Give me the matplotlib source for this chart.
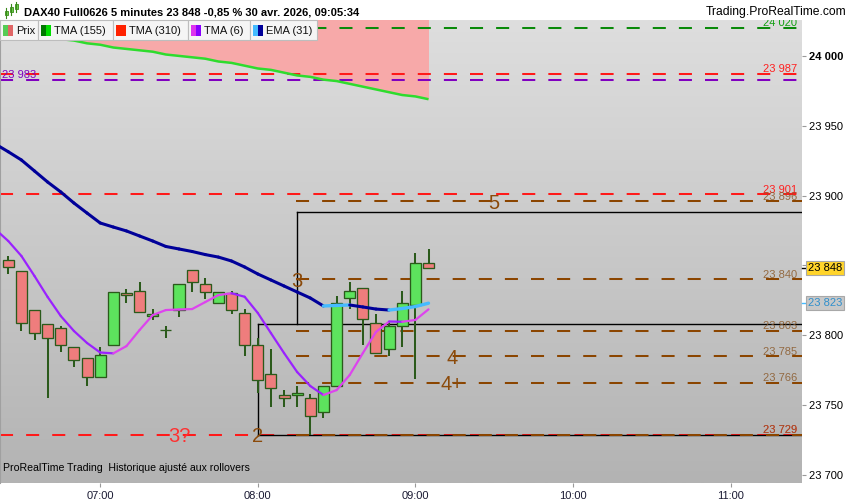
import numpy as np
import matplotlib
matplotlib.use("Agg")
import matplotlib.pyplot as plt
import matplotlib.transforms as mtransforms
from matplotlib.patches import Rectangle
from matplotlib.lines import Line2D
from matplotlib.colors import LinearSegmentedColormap

plt.rcParams['font.family'] = ['Liberation Sans', 'DejaVu Sans']
plt.rcParams['lines.scale_dashes'] = False

# ---------------- data ----------------
times = ["06:25", "06:30", "06:35", "06:40", "06:45", "06:50", "06:55", "07:00",
         "07:05", "07:10", "07:15", "07:20", "07:25", "07:30", "07:35", "07:40",
         "07:45", "07:50", "07:55", "08:00", "08:05", "08:10", "08:15", "08:20",
         "08:25", "08:30", "08:35", "08:40", "08:45", "08:50", "08:55", "09:00",
         "09:05"]
opens = [23854, 23846, 23818, 23808, 23805, 23792, 23784, 23770,
         23793, 23830, 23832, 23814, 23804, 23818, 23847, 23837,
         23823, 23830, 23816, 23793, 23772, 23757, 23757, 23755,
         23745, 23764, 23827, 23834, 23809, 23790, 23807, 23822,
         23852]
highs = [23857, 23846, 23818, 23808, 23807, 23792, 23784, 23792,
         23831, 23833, 23838, 23819, 23807, 23837, 23847, 23841,
         23831, 23832, 23819, 23798, 23790, 23761, 23764, 23758,
         23764, 23828, 23838, 23834, 23815, 23810, 23832, 23859,
         23862]
lows = [23844, 23803, 23797, 23755, 23788, 23777, 23764, 23770,
        23793, 23823, 23817, 23811, 23798, 23813, 23831, 23826,
        23823, 23815, 23785, 23759, 23749, 23749, 23749, 23729,
        23741, 23764, 23819, 23793, 23787, 23785, 23792, 23769,
        23848]
closes = [23849, 23809, 23802, 23798, 23793, 23782, 23770, 23786,
          23831, 23829, 23817, 23815, 23804, 23837, 23838, 23831,
          23831, 23818, 23793, 23768, 23762, 23755, 23759, 23742,
          23764, 23823, 23832, 23812, 23787, 23807, 23823, 23852,
          23848]

# indicators also have the bar before the first visible candle
indicator_times = ["06:20"] + times
tma155 = [24019, 24018, 24016, 24015, 24013, 24012, 24011, 24009, 24008,
          24006, 24005, 24004, 24003, 24001, 24000, 23999, 23998,
          23996, 23995, 23993, 23991, 23990, 23988, 23986, 23985,
          23983, 23982, 23980, 23978, 23976, 23974, 23972, 23971,
          23969]
tma6 = [23876.0, 23867.5, 23856.8, 23842.4, 23827.4, 23813.8, 23803.1, 23794.5, 23787.7,
        23787.1, 23792.3, 23803.8, 23814.5, 23818.1, 23818.5, 23818.8, 23823.8,
        23828.8, 23830.1, 23827.6, 23816.0, 23801.6, 23787.3, 23773.7, 23763.7,
        23757.3, 23760.8, 23771.6, 23787.3, 23802.4, 23809.9, 23809.7, 23811.0,
        23818.6]
ema31 = [23937.0, 23931.4, 23925.5, 23917.6, 23909.7, 23902.6, 23894.7, 23887.5, 23880.4,
         23877.5, 23874.7, 23871.1, 23867.5, 23863.6, 23861.8, 23860.0, 23857.8,
         23856.0, 23853.2, 23848.9, 23843.9, 23839.6, 23835.3, 23831.0, 23826.7,
         23821.0, 23821.4, 23821.7, 23820.3, 23818.8, 23818.1, 23819.2, 23820.6,
         23823.0]

full_levels = [24020, 23987, 23983, 23901, 23729]
full_level_labels = ["24 020", "23 987", "23 983", "23 901", "23 729"]
brown_start = "08:15"
brown_levels = [23896, 23840, 23803, 23785, 23766, 23729]
brown_level_labels = ["23 896", "23 840", "23 803", "23 785", "23 766", "23 729"]

box_top_start, box_top_price, box_top_bottom = "08:15", 23888, 23808
box_low_start, box_low_price, box_low_bottom = "08:00", 23808, 23729

wave_labels = ["3?", "2", "3", "4", "4+", "5"]
wave_times = ["07:30", "08:00", "08:15", "09:14", "09:14", "09:30"]
wave_prices = [23729, 23729, 23840, 23785, 23766, 23896]

x_tick_labels = ["07:00", "08:00", "09:00", "10:00", "11:00"]
y_ticks = [23700, 23750, 23800, 23850, 23900, 23950, 24000]

title = "DAX40 Full0626 5 minutes 23 848 -0,85 % 30 avr. 2026, 09:05:34"
legend_names = ["Prix", "TMA (155)", "TMA (310)", "TMA (6)", "EMA (31)"]
last_price = 23848
last_ema = 23823


def to_min(t):
    h, m = t.split(":")
    return int(h) * 60 + int(m)


def fmt(v):
    return f"{int(round(v)):,}".replace(",", " ")


# ---------------- figure ----------------
W, H = 850, 500
fig = plt.figure(figsize=(W / 100, H / 100), dpi=100)
fig.patch.set_facecolor('white')

AX_L, AX_R, AX_T, AX_B = 0, 802, 20, 483
ax = fig.add_axes([AX_L / W, 1 - AX_B / H, (AX_R - AX_L) / W, (AX_B - AX_T) / H])
XMIN, XMAX = 381.85, 687.2
YMIN, YMAX = 23694.3, 24025.7

bg = LinearSegmentedColormap.from_list('bg', ['#DEDEDE', '#B3B3B3'])
ax.imshow(np.linspace(0, 1, 256).reshape(-1, 1), extent=[XMIN, XMAX, YMIN, YMAX],
          aspect='auto', cmap=bg, origin='upper', zorder=0, interpolation='bilinear')
ax.set_xlim(XMIN, XMAX)
ax.set_ylim(YMIN, YMAX)

tx = np.array([to_min(t) for t in times], dtype=float)
ix = np.array([to_min(t) for t in indicator_times], dtype=float)

# pink cloud above TMA155
ax.fill_between(ix, tma155, YMAX + 50, color='#F7A9A9', lw=0, zorder=1)
ax.plot(ix, tma155, color='#2EDC2E', lw=1.8, zorder=6, solid_capstyle='butt')

dash = (0, (9.4, 9.4))
full_colors = ['#0A8A0A', '#FF1A1A', '#8000C0', '#FF1A1A', '#FF1A1A']
for v, c in zip(full_levels, full_colors):
    ax.plot([XMIN, XMAX], [v, v], color=c, lw=1.45, linestyle=dash, zorder=2)

bx = to_min(brown_start)
for v in brown_levels:
    ax.plot([bx - 0.3, XMAX], [v, v], color='#8B4500', lw=1.45, linestyle=dash, zorder=2.2)

# black box lines
k = dict(color='black', lw=1.0, zorder=2.1)
t1 = to_min(box_top_start)
ax.plot([t1, XMAX], [box_top_price, box_top_price], **k)
ax.plot([t1, t1], [box_top_price, box_top_bottom], **k)
t2 = to_min(box_low_start)
ax.plot([t2, XMAX], [box_low_price, box_low_price], **k)
ax.plot([t2, t2], [box_low_price, box_low_bottom], **k)
ax.plot([t2, XMAX], [box_low_bottom, box_low_bottom], **k)

# level labels
trans = mtransforms.blended_transform_factory(ax.transAxes, ax.transData)
lab_x = 797 / 802
for v, s, c in zip(full_levels, full_level_labels, full_colors):
    if v == 23983:
        ax.text(2 / 802, v + 1.2, s, transform=trans, ha='left', va='baseline',
                color='#8000C0', fontsize=8, zorder=7, clip_on=True)
    else:
        col = '#12A012' if v == 24020 else '#FF2020'
        ax.text(lab_x, v + 1.2, s, transform=trans, ha='right', va='baseline',
                color=col, fontsize=8, zorder=7, clip_on=True)
for v, s in zip(brown_levels, brown_level_labels):
    ax.text(lab_x, v + 1.2, s, transform=trans, ha='right', va='baseline',
            color='#8B5A2B', fontsize=8, zorder=7.1, clip_on=True, alpha=0.85)

# candles
body_w = 4.2
edge = '#2B5A1B'
for x, o, h, l, c in zip(tx, opens, highs, lows, closes):
    ax.vlines(x, l, h, color=edge, lw=1.45, zorder=3)
    fc = '#5DE35D' if c > o else '#EF7D7D'
    ax.bar(x, max(abs(c - o), 0.01), bottom=min(o, c), width=body_w, color=fc,
           edgecolor=edge, linewidth=0.95, zorder=4)

# TMA6 and EMA31 coloured by direction
for i in range(len(ix) - 1):
    up = tma6[i + 1] > tma6[i]
    ax.plot(ix[i:i + 2], tma6[i:i + 2], color='#DD44EE' if up else '#9A22FF',
            lw=1.6, zorder=6, solid_capstyle='round')
for i in range(len(ix) - 1):
    up = ema31[i + 1] > ema31[i]
    ax.plot(ix[i:i + 2], ema31[i:i + 2], color='#45BBFF' if up else '#000099',
            lw=2.4 if up else 2.2, zorder=6, solid_capstyle='round')

# wave labels
for s, t, v in zip(wave_labels, wave_times, wave_prices):
    col = '#FF3030' if s == "3?" else '#8B4A0A'
    ax.text(to_min(t), v, s, ha='center', va='center_baseline', fontsize=14.5,
            color=col, zorder=8)

# axes styling
for sp in ['top', 'right']:
    ax.spines[sp].set_visible(False)
ax.spines['left'].set_color('#A0A0A0')
ax.spines['left'].set_linewidth(0.8)
ax.spines['bottom'].set_visible(False)

ax.set_xticks([to_min(t) for t in x_tick_labels])
ax.set_xticklabels(x_tick_labels)
ax.yaxis.tick_right()
ax.set_yticks(y_ticks)
ax.set_yticklabels([fmt(v) for v in y_ticks])
for lbl, v in zip(ax.get_yticklabels(), y_ticks):
    if v % 1000 == 0:
        lbl.set_fontweight('bold')
        lbl.set_fontsize(9)
ax.tick_params(axis='y', direction='out', length=3, color='#999999',
               labelsize=8, pad=2, labelcolor='black')
ax.tick_params(axis='x', direction='out', length=3, color='#999999',
               labelsize=8, pad=3, labelcolor='#1A1A33')

# price boxes
ax.plot([1.0, 1.006], [last_ema, last_ema], transform=trans, color='#45BBFF',
        lw=1, clip_on=False, zorder=9)
ax.plot([1.0, 1.006], [last_price, last_price], transform=trans, color='black',
        lw=1, clip_on=False, zorder=9)
ax.text(1 + 6 / 802, last_price, fmt(last_price), transform=trans, ha='left',
        va='center', fontsize=8, color='black', zorder=10, clip_on=False,
        bbox=dict(boxstyle='square,pad=0.18', fc='#FFD42A', ec='#A8A8A8', lw=0.8))
ax.text(1 + 6 / 802, last_ema, fmt(last_ema), transform=trans, ha='left',
        va='center', fontsize=8, color='#2F8FCC', zorder=10, clip_on=False,
        bbox=dict(boxstyle='square,pad=0.18', fc='#C8C8C8', ec='#A8A8A8', lw=0.8))

# footer text
ax.text(3 / 802, 0.022, "ProRealTime Trading  Historique ajusté aux rollovers",
        transform=ax.transAxes, fontsize=7.6, color='black', ha='left',
        va='bottom', zorder=8)


# ---------------- figure-level decorations ----------------
def fx(x):
    return x / W


def fy(y):
    return 1 - y / H


fig.text(fx(24), fy(12.5), title, fontsize=8, fontweight='bold', va='center',
         ha='left')
fig.text(fx(846), fy(12.5), "Trading.ProRealTime.com", fontsize=8.7, va='center',
         ha='right')

# small candlestick icon
for (x, y0, y1, b0, b1) in [(6, 8, 18, 11, 15), (11, 4, 15, 7, 12), (16, 2, 12, 4, 9)]:
    fig.add_artist(Line2D([fx(x), fx(x)], [fy(y0), fy(y1)], color='#3A8A1A', lw=0.8))
    fig.add_artist(Rectangle((fx(x - 1.5), fy(b1)), 3 / W, (b1 - b0) / H,
                             transform=fig.transFigure, fc='#6BD14B', ec='#3A8A1A', lw=0.6))

# legend boxes
legend_boxes = [(0, 38), (38, 113), (113, 188), (188, 250), (250, 317)]
legend_icons = [('#55CC55', '#E06666'), ('#007700', '#00DD00'), ('#FF2200', '#FF2200'),
                ('#DD33EE', '#8800FF'), ('#44BBFF', '#000099')]
for (x0, x1), name, (c1, c2) in zip(legend_boxes, legend_names, legend_icons):
    fig.add_artist(Rectangle((fx(x0), fy(39.5)), (x1 - x0) / W, 19 / H,
                             transform=fig.transFigure, fc='#F5F5F5', ec='#BDBDBD',
                             lw=0.8, zorder=20))
    fig.add_artist(Rectangle((fx(x0 + 3), fy(36)), 5 / W, 11 / H,
                             transform=fig.transFigure, fc=c1, ec='none', zorder=21))
    fig.add_artist(Rectangle((fx(x0 + 8), fy(36)), 5 / W, 11 / H,
                             transform=fig.transFigure, fc=c2, ec='none', zorder=21))
    fig.text(fx(x0 + 16), fy(30.5), name, fontsize=8, va='center', ha='left',
             zorder=22, color='#111111')

fig.savefig("out.png", dpi=100, facecolor='white')
